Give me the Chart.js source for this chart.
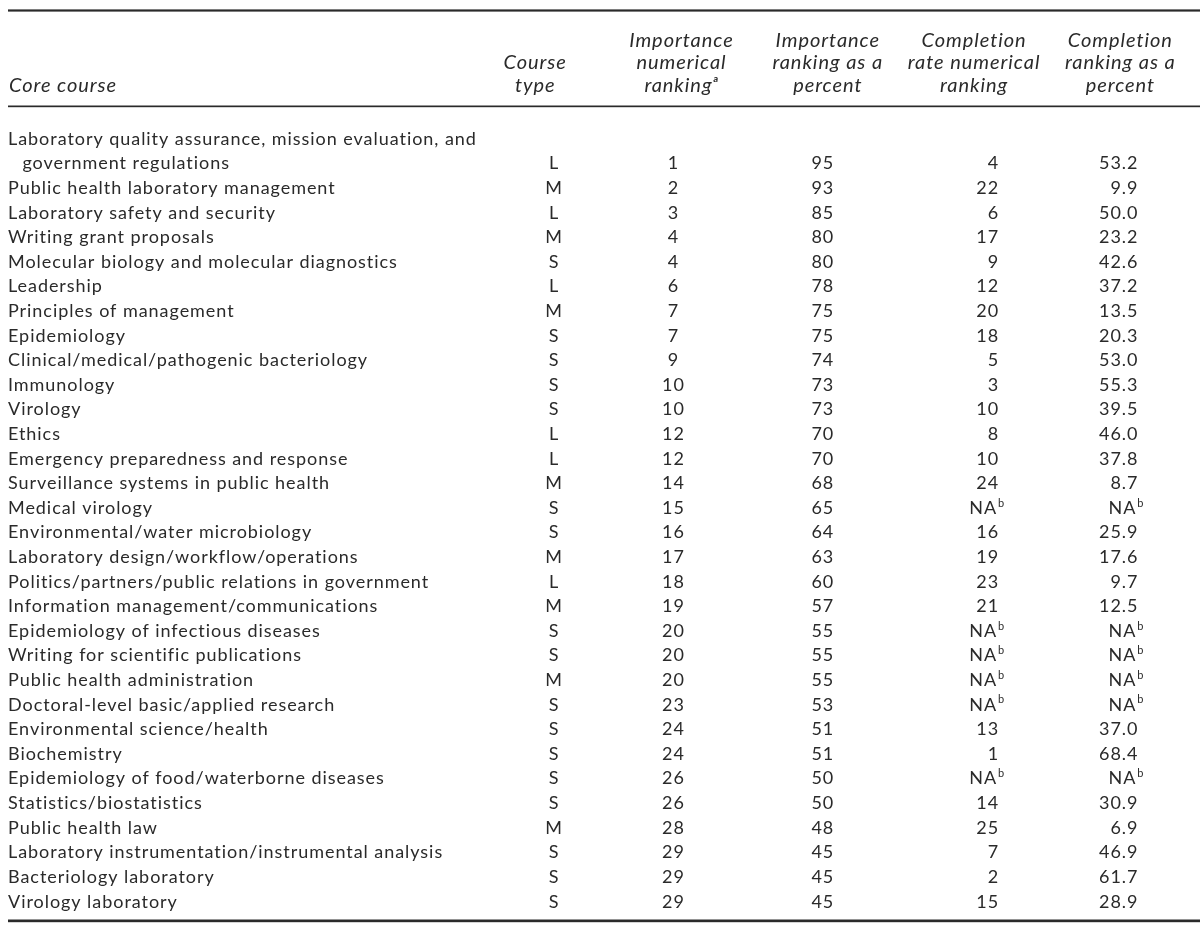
<!DOCTYPE html>
<html>
<head>
<meta charset="utf-8">
<script src="https://cdn.jsdelivr.net/npm/chart.js@4.4.1/dist/chart.umd.min.js"></script>
<style>
  html, body { margin: 0; padding: 0; background: #ffffff; }
  #wrap { width: 1200px; height: 926px; position: relative; }
</style>
</head>
<body>
<div id="wrap"><canvas id="c"></canvas></div>
<script>
// ---------------- DATA ----------------
const courses = [
  ['Laboratory quality assurance, mission evaluation, and', 'government regulations'],
  'Public health laboratory management',
  'Laboratory safety and security',
  'Writing grant proposals',
  'Molecular biology and molecular diagnostics',
  'Leadership',
  'Principles of management',
  'Epidemiology',
  'Clinical/medical/pathogenic bacteriology',
  'Immunology',
  'Virology',
  'Ethics',
  'Emergency preparedness and response',
  'Surveillance systems in public health',
  'Medical virology',
  'Environmental/water microbiology',
  'Laboratory design/workflow/operations',
  'Politics/partners/public relations in government',
  'Information management/communications',
  'Epidemiology of infectious diseases',
  'Writing for scientific publications',
  'Public health administration',
  'Doctoral-level basic/applied research',
  'Environmental science/health',
  'Biochemistry',
  'Epidemiology of food/waterborne diseases',
  'Statistics/biostatistics',
  'Public health law',
  'Laboratory instrumentation/instrumental analysis',
  'Bacteriology laboratory',
  'Virology laboratory'
];
const courseType = ['L','M','L','M','S','L','M','S','S','S','S','L','L','M','S','S','M','L','M','S','S','M','S','S','S','S','S','M','S','S','S'];
const importanceRank = [1,2,3,4,4,6,7,7,9,10,10,12,12,14,15,16,17,18,19,20,20,20,23,24,24,26,26,28,29,29,29];
const importancePct = [95,93,85,80,80,78,75,75,74,73,73,70,70,68,65,64,63,60,57,55,55,55,53,51,51,50,50,48,45,45,45];
const completionRank = [4,22,6,17,9,12,20,18,5,3,10,8,10,24,null,16,19,23,21,null,null,null,null,13,1,null,14,25,7,2,15];
const completionPct = [53.2,9.9,50.0,23.2,42.6,37.2,13.5,20.3,53.0,55.3,39.5,46.0,37.8,8.7,null,25.9,17.6,9.7,12.5,null,null,null,null,37.0,68.4,null,30.9,6.9,46.9,61.7,28.9];
const columnHeaders = [
  ['Course', 'type'],
  ['Importance', 'numerical', 'ranking\u1D43'],
  ['Importance', 'ranking as a', 'percent'],
  ['Completion', 'rate numerical', 'ranking'],
  ['Completion', 'ranking as a', 'percent']
];
const rowHeader = 'Core course';
const naText = 'NA';
const naNote = 'b';

// ---------------- STYLE ----------------
const FONT = 'Lato, "Noto Sans", "DejaVu Sans", sans-serif';
const TEXT = '#2a2a2a';
const RULE = '#2a2a2a';
const BODY_SIZE = 18;
const HEAD_SIZE = 20;
const HEAD_LH = 1.125;
const HEAD_PAD = 30;
const SPACING = '0.95px';
// per-column text alignment relative to the category centre
const cellStyle = [
  { align: 'center', dx: 19 },
  { align: 'center', dx: -8 },
  { align: 'center', dx: -5 },
  { align: 'right',  dx: 25 },
  { align: 'right',  dx: 18 }
];

// ---------------- BUILD ----------------
const lines = [];
const rowLine = [];
courses.forEach(c => {
  if (Array.isArray(c)) {
    lines.push(c[0]);
    for (let k = 1; k < c.length; k++) lines.push('\u2003' + c[k]);
  } else {
    lines.push(c);
  }
  rowLine.push(lines[lines.length - 1]);
});
const colKeys = columnHeaders.map(h => h.join(' '));
const fmt = (v, d) => (v === null || v === undefined) ? null : (d ? v.toFixed(d) : String(v));
const columnText = [
  courseType.slice(),
  importanceRank.map(v => fmt(v, 0)),
  importancePct.map(v => fmt(v, 0)),
  completionRank.map(v => fmt(v, 0)),
  completionPct.map(v => fmt(v, 1))
];

const datasets = columnText.map((col, j) => ({
  label: colKeys[j],
  data: col.map((t, i) => ({ x: colKeys[j], y: rowLine[i] })),
  cellText: col,
  pointRadius: 0,
  pointHoverRadius: 0,
  showLine: false
}));

const spacingPlugin = {
  id: 'spacing',
  beforeDraw(chart) {
    try { chart.ctx.letterSpacing = SPACING; } catch (e) {}
  }
};

const rulesPlugin = {
  id: 'rules',
  afterDraw(chart) {
    const ctx = chart.ctx, ca = chart.chartArea;
    const x0 = chart.scales.y.left, x1 = chart.width;
    ctx.save();
    ctx.fillStyle = RULE;
    ctx.fillRect(x0, 9.4, x1 - x0, 2.2);                // top rule
    ctx.fillRect(x0, ca.top - 21.2, x1 - x0, 1.7);       // header rule
    ctx.fillRect(x0, ca.bottom + 5.5, x1 - x0, 2.7);     // bottom rule
    // stub header
    const xs = chart.scales.x;
    const lh = HEAD_SIZE * HEAD_LH;
    ctx.fillStyle = TEXT;
    ctx.font = 'italic ' + HEAD_SIZE + 'px ' + FONT;
    ctx.textAlign = 'left';
    ctx.textBaseline = 'middle';
    ctx.fillText(rowHeader, x0 + 1, xs.bottom - HEAD_PAD - lh / 2);
    ctx.restore();
  }
};

const cellPlugin = {
  id: 'cells',
  afterDatasetsDraw(chart) {
    const ctx = chart.ctx;
    ctx.save();
    ctx.fillStyle = TEXT;
    ctx.textBaseline = 'middle';
    chart.data.datasets.forEach((ds, j) => {
      const meta = chart.getDatasetMeta(j);
      const st = cellStyle[j];
      meta.data.forEach((pt, i) => {
        const t = ds.cellText[i];
        const x = pt.x + st.dx, y = pt.y;
        ctx.font = BODY_SIZE + 'px ' + FONT;
        if (t === null) {
          ctx.textAlign = 'right';
          ctx.fillText(naText, x - 2, y);
          ctx.font = '11px ' + FONT;
          ctx.textAlign = 'left';
          ctx.fillText(naNote, x - 1, y - 5);
        } else {
          ctx.textAlign = st.align;
          ctx.fillText(t, x, y);
        }
      });
    });
    ctx.restore();
  }
};

new Chart(document.getElementById('c'), {
  type: 'scatter',
  data: { datasets },
  plugins: [spacingPlugin, rulesPlugin, cellPlugin],
  options: {
    responsive: true,
    maintainAspectRatio: false,
    animation: false,
    events: [],
    layout: { padding: { left: 8, right: 69.6, top: 0, bottom: 12 } },
    plugins: { legend: { display: false }, tooltip: { enabled: false }, title: { display: false } },
    scales: {
      x: {
        type: 'category',
        position: 'top',
        labels: colKeys,
        offset: false,
        grid: { display: false, drawTicks: false },
        border: { display: false },
        ticks: {
          autoSkip: false, maxRotation: 0, minRotation: 0,
          padding: HEAD_PAD,
          color: TEXT,
          font: { family: FONT, size: HEAD_SIZE, style: 'italic', lineHeight: HEAD_LH },
          callback: (v, i) => columnHeaders[i]
        },
        afterFit: s => { s.height = 126.7; }
      },
      y: {
        type: 'category',
        position: 'left',
        labels: lines,
        offset: true,
        grid: { display: false, drawTicks: false },
        border: { display: false },
        ticks: {
          autoSkip: false,
          crossAlign: 'far',
          padding: 0,
          color: TEXT,
          font: { family: FONT, size: BODY_SIZE }
        },
        afterFit: s => { s.width = 527.2; }
      }
    }
  }
});
</script>
</body>
</html>
